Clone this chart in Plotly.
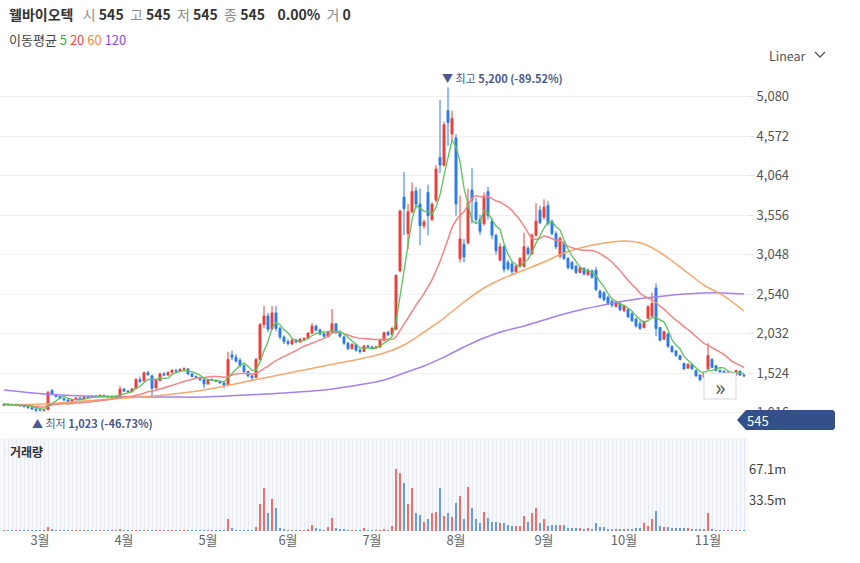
import plotly.graph_objects as go
import pandas as pd

# ---------------- data ----------------
stock_name = "웰바이오텍"
last_price = 545
month_labels = ["3월", "4월", "5월", "6월", "7월", "8월", "9월", "10월", "11월"]
month_start_idx = [9, 30, 51, 71, 92, 113, 135, 155, 176]
price_ticks = [1016, 1524, 2032, 2540, 3048, 3556, 4064, 4572, 5080]
volume_ticks = [33.5, 67.1]
volume_tick_text = ["33.5m", "67.1m"]

opens = [
    1110, 1125, 1120, 1112, 1120, 1105, 1095, 1080, 1065, 1050,
    1045, 1055, 1300, 1250, 1225, 1200, 1180, 1140, 1185, 1205,
    1195, 1220, 1212, 1230, 1225, 1240, 1225, 1215, 1228, 1220,
    1318, 1295, 1285, 1325, 1440, 1425, 1530, 1490, 1335, 1430,
    1515, 1500, 1535, 1560, 1550, 1575, 1580, 1515, 1482, 1470,
    1440, 1385, 1440, 1432, 1420, 1400, 1380, 1760, 1730, 1690,
    1620, 1545, 1490, 1470, 1700, 2150, 2260, 2090, 2300, 2100,
    1990, 1930, 1900, 1950, 1925, 1962, 1970, 2040, 2130, 2080,
    2030, 1995, 2050, 2160, 2050, 1990, 1910, 1840, 1895, 1820,
    1805, 1875, 1862, 1845, 1860, 1945, 2050, 2020, 2090, 2840,
    3790, 3320, 3600, 3870, 3700, 3420, 3850, 3500, 3750, 4300,
    4200, 4900, 4600, 4550, 3000, 3180, 3200, 3880, 3720, 3500,
    3450, 3860, 3480, 3300, 2980, 3150, 2950, 2930, 2830, 2900,
    2900, 3130, 3060, 3300, 3620, 3530, 3680, 3480, 3320, 3030,
    3200, 3000, 2950, 2900, 2820, 2870, 2790, 2840, 2850, 2580,
    2560, 2500, 2450, 2380, 2420, 2330, 2340, 2290, 2220, 2160,
    2110, 2230, 2260, 2620, 2110, 1960, 2030, 1870, 1810, 1750,
    1650, 1590, 1640, 1560, 1500, 1470, 1580, 1700, 1620, 1560,
    1550, 1520, 1535, 1500, 1550, 1500,
]
highs = [
    1135, 1140, 1135, 1130, 1128, 1112, 1100, 1090, 1075, 1062,
    1060, 1295, 1320, 1262, 1235, 1210, 1190, 1195, 1215, 1215,
    1230, 1235, 1240, 1245, 1250, 1248, 1240, 1235, 1240, 1355,
    1335, 1310, 1330, 1460, 1480, 1545, 1555, 1510, 1445, 1530,
    1540, 1545, 1575, 1580, 1585, 1600, 1590, 1530, 1495, 1480,
    1452, 1450, 1460, 1445, 1430, 1410, 1800, 1815, 1770, 1720,
    1640, 1560, 1510, 1720, 2170, 2390, 2300, 2390, 2390, 2120,
    2010, 1960, 1960, 1965, 1975, 1990, 2050, 2170, 2150, 2100,
    2050, 2070, 2350, 2170, 2080, 2010, 1930, 1910, 1905, 1850,
    1890, 1890, 1875, 1875, 1960, 2060, 2070, 2120, 2800, 3630,
    4110, 3700, 3980, 3920, 3900, 3500, 3950, 3720, 4200, 5040,
    4760, 5200, 4900, 4600, 3810, 3250, 3900, 4160, 3780, 3560,
    3850, 3920, 3520, 3320, 3200, 3170, 2980, 2960, 2920, 3020,
    3330, 3160, 3320, 3710, 3680, 3760, 3740, 3500, 3350, 3280,
    3220, 3020, 2970, 2920, 2900, 2890, 2870, 2860, 2890, 2600,
    2580, 2520, 2470, 2460, 2440, 2400, 2360, 2310, 2240, 2200,
    2200, 2400, 2560, 2680, 2120, 2070, 2040, 1880, 1820, 1760,
    1660, 1650, 1650, 1570, 1510, 1540, 1910, 1720, 1630, 1575,
    1560, 1545, 1540, 1570, 1560, 1515,
]
lows = [
    1100, 1110, 1105, 1100, 1095, 1085, 1070, 1055, 1023, 1035,
    1030, 1050, 1245, 1210, 1190, 1165, 1120, 1130, 1175, 1185,
    1190, 1200, 1205, 1215, 1220, 1215, 1205, 1205, 1200, 1215,
    1280, 1270, 1280, 1320, 1400, 1420, 1490, 1220, 1320, 1425,
    1490, 1495, 1525, 1540, 1545, 1560, 1500, 1470, 1455, 1425,
    1330, 1380, 1420, 1410, 1390, 1330, 1375, 1690, 1660, 1600,
    1530, 1470, 1440, 1460, 1690, 2100, 2050, 2080, 2060, 1960,
    1900, 1880, 1890, 1910, 1915, 1940, 1960, 2030, 2060, 2010,
    1980, 1985, 2040, 2030, 1980, 1890, 1820, 1830, 1800, 1780,
    1795, 1850, 1830, 1835, 1850, 1940, 2000, 2010, 2080, 2820,
    3300, 3120, 3580, 3640, 3170, 3380, 3300, 3480, 3720, 4100,
    4180, 4450, 4500, 3550, 2950, 2950, 3180, 3450, 3450, 3300,
    3420, 3500, 3250, 3050, 2960, 2820, 2840, 2800, 2810, 2880,
    2880, 3040, 3050, 3280, 3440, 3500, 3420, 3300, 3120, 3000,
    2980, 2860, 2850, 2800, 2810, 2780, 2780, 2740, 2580, 2480,
    2450, 2400, 2370, 2370, 2320, 2310, 2230, 2180, 2110, 2080,
    2100, 2220, 2240, 2000, 1930, 1950, 1850, 1790, 1740, 1690,
    1570, 1580, 1570, 1480, 1420, 1460, 1570, 1590, 1550, 1530,
    1510, 1510, 1500, 1495, 1490, 1480,
]
closes = [
    1125, 1120, 1115, 1122, 1105, 1095, 1080, 1065, 1050, 1045,
    1052, 1280, 1255, 1225, 1200, 1180, 1150, 1185, 1205, 1195,
    1222, 1212, 1230, 1225, 1240, 1225, 1215, 1228, 1220, 1320,
    1295, 1285, 1322, 1445, 1420, 1530, 1505, 1330, 1435, 1515,
    1500, 1535, 1560, 1550, 1575, 1582, 1515, 1482, 1470, 1440,
    1385, 1440, 1432, 1420, 1400, 1370, 1700, 1730, 1680, 1620,
    1545, 1490, 1465, 1700, 2150, 2260, 2090, 2300, 2100, 1990,
    1930, 1905, 1950, 1925, 1962, 1970, 2040, 2130, 2080, 2030,
    2000, 2050, 2160, 2050, 2000, 1910, 1840, 1895, 1820, 1800,
    1875, 1862, 1845, 1860, 1945, 2045, 2020, 2100, 2780, 3610,
    3640, 3600, 3860, 3700, 3420, 3470, 3550, 3700, 4150, 4200,
    4720, 4750, 4800, 3700, 3250, 3020, 3720, 3750, 3500, 3350,
    3780, 3550, 3300, 3100, 3150, 2860, 2870, 2830, 2900, 3000,
    3150, 3060, 3300, 3480, 3460, 3660, 3450, 3320, 3150, 3260,
    3000, 2880, 2870, 2820, 2880, 2800, 2850, 2760, 2600, 2500,
    2470, 2420, 2400, 2440, 2340, 2390, 2250, 2200, 2130, 2100,
    2190, 2380, 2420, 2100, 1950, 2060, 1870, 1800, 1750, 1700,
    1580, 1640, 1580, 1490, 1440, 1530, 1750, 1600, 1560, 1540,
    1520, 1535, 1515, 1560, 1500, 1490,
]
# volume in millions of shares
volumes = [
    0.8, 0.5, 0.4, 0.5, 0.6, 0.5, 0.6, 0.6, 0.9, 0.5,
    0.6, 4.5, 2.0, 1.0, 0.8, 0.5, 0.6, 0.9, 0.7, 0.5,
    0.6, 0.4, 0.5, 0.4, 0.8, 0.3, 0.4, 0.8, 0.4, 1.8,
    0.6, 0.4, 0.6, 0.8, 1.2, 1.4, 1.3, 1.5, 1.0, 1.2,
    0.8, 0.6, 0.8, 0.6, 0.5, 0.6, 0.7, 0.5, 0.5, 0.7,
    0.9, 0.6, 0.4, 0.5, 0.4, 0.6, 13, 3, 1.0, 0.8,
    0.9, 1.2, 1.3, 4, 29, 47, 20, 35, 25, 3.5,
    2, 1.5, 1.5, 1, 1.2, 1.5, 2, 7, 3, 2,
    1.5, 4.5, 14, 3.5, 2.5, 2.5, 1.2, 1.0, 1.0, 0.8,
    3, 0.8, 0.7, 0.8, 1.2, 2.5, 1.0, 5, 67, 63,
    52, 29, 47, 19, 17, 10, 13, 20, 21, 46,
    16, 19, 15, 30, 38, 13, 48, 25, 13, 9,
    21, 14, 10, 10, 9, 9, 7, 5, 5, 5,
    16, 10, 20, 25, 9, 13, 5, 6, 6, 6,
    6, 3, 3, 3, 3, 2, 3, 2, 9, 4,
    4, 2, 2, 2, 2, 2, 2, 2, 3, 3,
    9, 5, 13, 22, 5, 4, 4, 3, 3, 3,
    3, 3, 2, 2, 2, 2, 20, 2, 1.5, 1.2,
    1.0, 1.0, 0.8, 1.5, 1.0, 1.2,
]
ma_long_idx = [0, 10, 20, 30, 40, 50, 60, 70, 80, 90, 95, 100, 105, 110, 115, 120,
               125, 130, 135, 140, 145, 150, 155, 160, 165, 170, 175, 180, 185]
ma60_vals = [1115, 1128, 1167, 1205, 1244, 1308, 1411, 1514, 1617, 1720, 1784, 1887,
             2054, 2234, 2440, 2620, 2749, 2851, 2954, 3070, 3147, 3198, 3224, 3186,
             3044, 2851, 2658, 2517, 2324]
ma120_vals = [1308, 1257, 1231, 1218, 1218, 1218, 1244, 1270, 1308, 1385, 1437, 1527,
              1617, 1732, 1861, 1977, 2067, 2131, 2208, 2285, 2350, 2401, 2453, 2491,
              2517, 2543, 2556, 2556, 2543]

# ---------------- derived ----------------
days = list(range(len(closes)))
ma5 = pd.Series(closes).rolling(5, min_periods=1).mean()
ma20 = pd.Series(closes).rolling(20, min_periods=1).mean()

UP = "#e8403c"
DOWN = "#2d7be5"
vol_colors = ["#ef6e6e" if c >= o else "#6a9be6" for o, c in zip(opens, closes)]

hi_idx = max(days, key=lambda i: highs[i])
lo_idx = min(days, key=lambda i: lows[i])
hi_val = highs[hi_idx]
lo_val = lows[lo_idx]
hi_pct = (last_price / hi_val - 1) * 100
lo_pct = (last_price / lo_val - 1) * 100

FONT = "Noto Sans CJK KR, Noto Sans, sans-serif"

# pixel helpers for decorations (plot area: x 0..748, y 65..531)
def px(x):
    return x / 748.0

def py(y):
    return (531.0 - y) / 466.0

fig = go.Figure()
fig.add_trace(go.Candlestick(
    x=days, open=opens, high=highs, low=lows, close=closes,
    increasing=dict(line=dict(color=UP, width=1), fillcolor=UP),
    decreasing=dict(line=dict(color=DOWN, width=1), fillcolor=DOWN),
    whiskerwidth=0, hoverinfo="skip", showlegend=False, xaxis="x", yaxis="y",
))
fig.add_trace(go.Scatter(x=ma_long_idx, y=ma120_vals, mode="lines",
                         line=dict(color="#a680f2", width=1.5, shape="spline"),
                         hoverinfo="skip", showlegend=False))
fig.add_trace(go.Scatter(x=ma_long_idx, y=ma60_vals, mode="lines",
                         line=dict(color="#f6a86c", width=1.5, shape="spline"),
                         hoverinfo="skip", showlegend=False))
fig.add_trace(go.Scatter(x=days, y=ma20, mode="lines",
                         line=dict(color="#f08686", width=1.5, shape="spline", smoothing=0.6),
                         hoverinfo="skip", showlegend=False))
fig.add_trace(go.Scatter(x=days, y=ma5, mode="lines",
                         line=dict(color="#5cc25c", width=1.3),
                         hoverinfo="skip", showlegend=False))
fig.add_trace(go.Bar(x=days, y=volumes, marker=dict(color=vol_colors, line=dict(width=0)),
                     width=0.62, hoverinfo="skip", showlegend=False,
                     xaxis="x2", yaxis="y2"))

fig.update_layout(
    width=860, height=563,
    margin=dict(l=0, r=112, t=65, b=32),
    paper_bgcolor="white", plot_bgcolor="white",
    font=dict(family=FONT, color="#444"),
    bargap=0,
    xaxis=dict(domain=[0, 1], range=[-1, 186], anchor="y", showticklabels=False,
               showgrid=False, zeroline=False, showline=False,
               rangeslider=dict(visible=False), fixedrange=True),
    xaxis2=dict(domain=[0, 1], range=[-1, 186], anchor="y2", matches="x",
                tickmode="array", tickvals=month_start_idx, ticktext=month_labels,
                tickfont=dict(size=13, color="#666"), ticks="",
                showgrid=True, gridcolor="#e7eaf0", gridwidth=1,
                minor=dict(tickmode="linear", tick0=0, dtick=1, showgrid=True,
                           gridcolor="#e7eaf0", gridwidth=1),
                zeroline=False, showline=False, fixedrange=True),
    yaxis=dict(domain=[0.2124, 1], range=[768, 5488], side="right",
               tickmode="array", tickvals=price_ticks, tickformat=",d",
               tickfont=dict(size=13, color="#555"),
               ticks="outside", ticklen=5, tickcolor="#e2e2e2",
               showgrid=True, gridcolor="#f0f0f0", zeroline=False, showline=False,
               fixedrange=True),
    yaxis2=dict(domain=[0, 0.1996], range=[0, 100.6], side="right",
                tickmode="array", tickvals=volume_ticks, ticktext=volume_tick_text,
                tickfont=dict(size=13, color="#444"),
                showgrid=False, zeroline=False, showline=False, fixedrange=True),
)

shapes = [
    # volume panel background
    dict(type="rect", xref="paper", yref="y2 domain", x0=0, x1=1, y0=0, y1=1,
         fillcolor="#f7f8fb", line=dict(width=0), layer="below"),
    # current price badge
    dict(type="path", xref="paper", yref="paper",
         path=(f"M {px(737)} {py(420)} L {px(746)} {py(410)} L {px(833)} {py(410)} "
               f"L {px(835)} {py(412)} L {px(835)} {py(428)} L {px(833)} {py(430)} "
               f"L {px(746)} {py(430)} Z"),
         fillcolor="#33508a", line=dict(width=0), layer="above"),
    # scroll-to-end button
    dict(type="rect", xref="paper", yref="paper",
         x0=px(704), x1=px(736), y0=py(399), y1=py(373),
         fillcolor="white", line=dict(color="#d6d6d6", width=1), layer="above"),
    # chevron next to "Linear"
    dict(type="path", xref="paper", yref="paper",
         path=f"M {px(815)} {py(52)} L {px(820)} {py(57)} L {px(825)} {py(52)}",
         line=dict(color="#555", width=1.3)),
]
fig.update_layout(shapes=shapes)

nb = "\u00a0"
gray = "<span style='color:#8c8c8c'>"
header1 = (f"<b>{stock_name}</b>{nb*3}{gray}시</span>{nb}<b>{last_price}</b>{nb*2}"
           f"{gray}고</span>{nb}<b>{last_price}</b>{nb*2}"
           f"{gray}저</span>{nb}<b>{last_price}</b>{nb*2}"
           f"{gray}종</span>{nb}<b>{last_price}</b>{nb*4}"
           f"<b>0.00%</b>{nb*2}{gray}거</span>{nb}<b>0</b>")
header2 = ("이동평균 <span style='color:#3daa3d'>5</span> "
           "<span style='color:#ef4a4a'>20</span> "
           "<span style='color:#ee8a3a'>60</span> "
           "<span style='color:#8a4ee6'>120</span>")

annotations = [
    dict(text=header1, xref="paper", yref="paper", x=px(7), y=py(14),
         xanchor="left", yanchor="middle", showarrow=False,
         font=dict(size=14, color="#333")),
    dict(text=header2, xref="paper", yref="paper", x=px(7), y=py(40),
         xanchor="left", yanchor="middle", showarrow=False,
         font=dict(size=13, color="#444")),
    dict(text="Linear", xref="paper", yref="paper", x=px(767), y=py(55),
         xanchor="left", yanchor="middle", showarrow=False,
         font=dict(size=12.5, color="#555")),
    dict(text=f"▼ 최고 <b>{hi_val:,}</b> <b>({hi_pct:.2f}%)</b>", xref="x", yref="y",
         x=hi_idx, y=hi_val, xanchor="left", yanchor="middle", xshift=-8, yshift=9,
         showarrow=False, font=dict(size=11, color="#4a5a8c")),
    dict(text=f"▲ 최저 <b>{lo_val:,}</b> <b>({lo_pct:.2f}%)</b>", xref="x", yref="y",
         x=lo_idx, y=lo_val, xanchor="left", yanchor="middle", xshift=-6, yshift=-11,
         showarrow=False, font=dict(size=11, color="#4a5a8c")),
    dict(text=f"{last_price}", xref="paper", yref="paper", x=px(745), y=py(420),
         xanchor="left", yanchor="middle", showarrow=False,
         font=dict(size=13, color="white")),
    dict(text="»", xref="paper", yref="paper", x=px(720), y=py(386),
         xanchor="center", yanchor="middle", showarrow=False,
         font=dict(size=22, color="#555")),
    dict(text="<b>거래량</b>", xref="paper", yref="paper", x=px(8), y=py(451),
         xanchor="left", yanchor="middle", showarrow=False,
         font=dict(size=12, color="#333")),
]
fig.update_layout(annotations=annotations)

fig.write_html("out.html", config={"displayModeBar": False},
               post_script="document.body.style.margin='0px';")
